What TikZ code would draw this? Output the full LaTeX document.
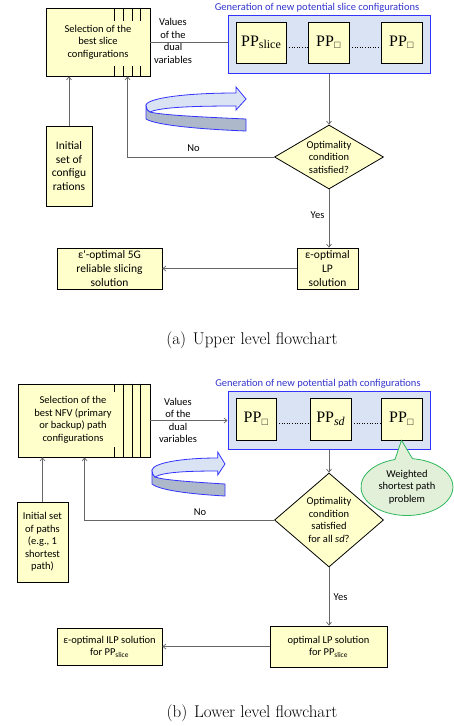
\documentclass[tikz,border=0pt]{standalone}
\usepackage{fontspec}
\usepackage{amssymb}
\newfontfamily\carl{Carlito}
\newfontfamily\lserif{Liberation Serif}
\usetikzlibrary{shapes.geometric,shapes.callouts,arrows.meta,calc}
\definecolor{boxfill}{HTML}{FFFFCC}
\definecolor{bluefill}{HTML}{DAE3F3}
\definecolor{blueline}{HTML}{3333FF}
\definecolor{bluetext}{HTML}{3333CC}
\definecolor{greenfill}{HTML}{E2F0D9}
\definecolor{greenline}{HTML}{2EB85C}
\definecolor{ringlight}{HTML}{DAE3F3}
\definecolor{ringgray}{HTML}{ADB9CA}
\definecolor{conngray}{HTML}{666666}
\newcommand{\ppsub}[1]{{\lserif PP\raisebox{-2.5pt}{\fontsize{12}{12}\selectfont #1}}}
\newcommand{\ppsq}{{\lserif PP\raisebox{-2.5pt}{\fontsize{9}{9}\selectfont$\square$}}}
\tikzset{
  txt/.style={font=\carl\fontsize{10.5}{12.5}\selectfont, align=center, inner sep=0pt},
  txtb/.style={font=\carl\fontsize{11.5}{13.7}\selectfont, align=center, inner sep=0pt},
  ybox/.style={draw=black, line width=0.8pt, fill=boxfill, rectangle, inner sep=0pt, align=center},
  bbox/.style={draw=blueline, line width=1pt, fill=bluefill, rectangle, inner sep=0pt},
  ppbox/.style={ybox, font=\lserif\fontsize{16}{18}\selectfont},
  cond/.style={diamond, draw=black, line width=0.8pt, fill=boxfill, txt},
  conn/.style={draw=conngray, line width=0.7pt},
  arr/.style={conn, -{Straight Barb[length=3pt,width=5pt]}},
  dots/.style={draw=black, line width=0.6pt, dotted},
  ttl/.style={font=\carl\fontsize{10.5}{12.5}\selectfont, text=bluetext, inner sep=0pt},
  captxt/.style={font=\fontsize{17}{20}\selectfont, inner sep=0pt},
  ringedge/.style={draw=blueline, line width=0.8pt, line join=round},
}
\newcommand{\ringarrow}{%
  \filldraw[ringedge, fill=ringgray] (0,18) -- (0,32) .. controls (10,38) and (50,42) .. (100,44) -- (100,32) .. controls (55,30) and (15,28) .. (4,25) .. controls (1,23) and (0,21) .. (0,18) -- cycle;
  \filldraw[ringedge, fill=ringlight, line join=miter] (0,18) .. controls (2,11) and (40,6) .. (90,6) -- (90,0) -- (100,12) -- (90,23) -- (90,19) .. controls (50,19) and (15,20) .. (4,25) .. controls (1,23) and (0,21) .. (0,18) -- cycle;
}
\begin{document}
\begin{tikzpicture}[x=1pt,y=-1pt]
\useasboundingbox (0,0) rectangle (454,726);

% ================= upper panel =================
\node[ybox, minimum width=104pt, minimum height=68pt, txt] (sel1) at (98,42) {Selection of the\\best slice\\configurations};
\foreach \dx in {69,78,87,95} {
  \draw[line width=0.8pt] ([xshift=\dx pt]sel1.north west) -- ++(0,13);
  \draw[line width=0.8pt] ([xshift=\dx pt]sel1.south west) -- ++(0,-10);
}
\node[bbox, minimum width=202pt, minimum height=58pt] (blue1) at (329,44) {};
\node[ttl] (ttl1) at (317,7.5) {Generation of new potential slice configurations};
\node[ppbox, minimum width=50pt, minimum height=41pt] (ppA) at (261,42.5) {\ppsub{slice}};
\node[ppbox, minimum width=41pt, minimum height=41pt] (ppB) at (328.5,42.5) {\ppsq};
\node[ppbox, minimum width=41pt, minimum height=41pt] (ppC) at (401.5,42.5) {\ppsq};
\draw[dots] ([yshift=-5pt]ppA.east) -- ([yshift=-5pt]ppB.west);
\draw[dots] ([yshift=-5pt]ppB.east) -- ([yshift=-5pt]ppC.west);

\node[txt] (val1) at (173,41) {Values\\of the\\dual\\variables};
\draw[conn] (sel1.east) -- (sel1.east -| blue1.west);

\node[cond, minimum width=109pt, minimum height=64pt, aspect=1.7] (dia1) at (329,157) {Optimality\\condition\\satisfied?};
\draw[arr] (blue1.south) -- (dia1.north);

\node[ybox, minimum width=46pt, minimum height=80pt, txtb] (init1) at (69,166) {Initial\\set of\\configu\\rations};
\draw[arr] (init1.north) -- (init1.north |- sel1.south);

\draw[arr] (dia1.west) -| ([xshift=82pt]sel1.south west);
\node[txt] (no1) at (193.5,148) {No};

\node[ybox, minimum width=61pt, minimum height=41pt, txtb] (lp1) at (327.5,268.5) {ε-optimal\\LP\\solution};
\draw[arr] (dia1.south) -- (dia1.south |- lp1.north);
\node[txt] (yes1) at (317.5,215) {Yes};

\node[ybox, minimum width=105pt, minimum height=41pt, txtb] (sol1) at (109.5,268.5) {ε'-optimal 5G\\reliable slicing\\solution};
\draw[arr] (lp1.west) -- (sol1.east);

\begin{scope}[shift={(146,87)}]
  \ringarrow
\end{scope}

\node[captxt] (cap1) at (252,340) {(a)\hspace{0.4em}Upper level flowchart};

% ================= lower panel =================
\node[ybox, minimum width=132pt, minimum height=73pt] (sel2) at (84,420.5) {};
\foreach \dx in {106,115,123} {
  \draw[line width=0.8pt] ([xshift=\dx pt]sel2.north west) -- ([xshift=\dx pt]sel2.south west);
}
\draw[line width=0.8pt] ([xshift=97pt]sel2.north west) -- ++(0,8);
\draw[line width=0.8pt] ([xshift=97pt]sel2.south west) -- ++(0,-10);
\node[txt] (sel2t) at (73,420) {Selection of the\\best NFV (primary\\or backup) path\\configurations};

\node[bbox, minimum width=202pt, minimum height=58pt] (blue2) at (329,420) {};
\node[ttl] (ttl2) at (318,384) {Generation of new potential path configurations};
\node[ppbox, minimum width=40pt, minimum height=42pt] (ppD) at (256,419) {\ppsq};
\node[ppbox, minimum width=41pt, minimum height=42pt] (ppE) at (330.5,419) {\ppsub{\itshape sd}};
\node[ppbox, minimum width=41pt, minimum height=42pt] (ppF) at (401.5,419) {\ppsq};
\draw[dots] ([yshift=-4pt]ppD.east) -- ([yshift=-4pt]ppE.west);
\draw[dots] ([yshift=-4pt]ppE.east) -- ([yshift=-4pt]ppF.west);

\node[ellipse callout, draw=greenline, fill=greenfill, line width=0.8pt, minimum width=92pt, minimum height=57pt, inner sep=0pt, callout absolute pointer={(ppF.south)}, callout pointer arc=22, txt] (call) at (407,487) {Weighted\\shortest path\\problem};

\node[txt] (val2) at (178,420.5) {Values\\of the\\dual\\variables};
\draw[arr] (sel2.east) -- (sel2.east -| blue2.west);

\node[cond, minimum width=109pt, minimum height=94pt, aspect=1.16] (dia2) at (329,520) {Optimality\\condition\\satisfied\\for all \textit{sd}?};
\draw[arr] (blue2.south) -- (dia2.north);

\node[ybox, minimum width=51pt, minimum height=80pt, txt] (init2) at (42.5,542) {Initial set\\of paths\\(e.g., 1\\shortest\\path)};
\draw[arr] (init2.north) -- (init2.north |- sel2.south);

\draw[arr] (dia2.west) -| ([xshift=67pt]sel2.south west);
\node[txt] (no2) at (200,512) {No};

\node[ybox, minimum width=117pt, minimum height=41pt, txt] (lp2) at (328.5,646.5) {optimal LP solution\\for PP\textsubscript{slice}};
\draw[arr] (dia2.south) -- (dia2.south |- lp2.north);
\node[txt] (yes2) at (340.5,597) {Yes};

\node[ybox, minimum width=105pt, minimum height=37pt, txt] (ilp2) at (109.5,646.5) {ε-optimal ILP solution\\for PP\textsubscript{slice}};
\draw[arr] (lp2.west) -- (ilp2.east);

\begin{scope}[shift={(152,452)}, xscale=0.73]
  \ringarrow
\end{scope}

\node[captxt] (cap2) at (252,713) {(b)\hspace{0.4em}Lower level flowchart};
\end{tikzpicture}
\end{document}
